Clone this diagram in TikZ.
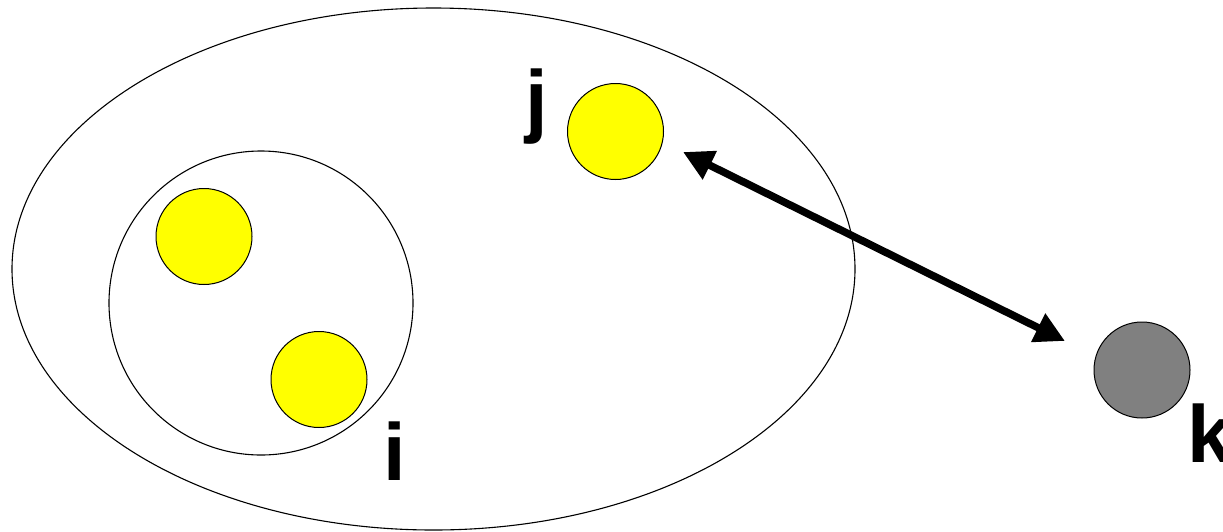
\documentclass[tikz,border=0pt]{standalone}
\usepackage{fontspec}
\setmainfont{Liberation Sans}
\usetikzlibrary{arrows.meta}
\definecolor{ballyellow}{RGB}{255,255,0}
\definecolor{ballgray}{RGB}{128,128,128}
\tikzset{
  ball/.style={circle, draw, line width=1pt, inner sep=0pt, minimum size=96pt},
  lbl/.style={inner sep=0pt, anchor=base west, font=\fontsize{81pt}{81pt}\selectfont\bfseries},
}
\begin{document}
\begin{tikzpicture}[x=1pt, y=-1pt]
\useasboundingbox (0,0) rectangle (1223,531);
% sets
\draw[line width=1.1pt] (433.5,269) ellipse[x radius=421.5, y radius=261];
\draw[line width=1.1pt] (261,303) circle[radius=152];
% members
\node[ball, fill=ballyellow] (a) at (204,236.5) {};
\node[ball, fill=ballyellow] (i) at (319,379.5) {};
\node[ball, fill=ballyellow] (j) at (615.5,131.5) {};
\node[ball, fill=ballgray] (k) at (1142,370) {};
\node[lbl] (li) at (383,480) {i};
\node[lbl] (lj) at (525.5,127) {j};
\node[lbl] (lk) at (1187,462) {k};
% interaction
\coordinate (P) at (683,152);
\coordinate (Q) at (1065,341);
\draw[{Triangle[length=30pt,width=30pt]}-{Triangle[length=30pt,width=30pt]}, line width=7.5pt] (P) -- (Q);
\end{tikzpicture}
\end{document}
